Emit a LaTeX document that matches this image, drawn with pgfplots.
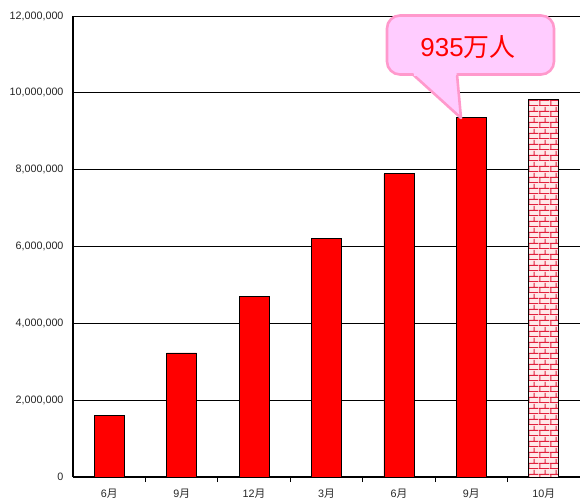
\documentclass[border=0pt]{standalone}
\usepackage{pgfplots}
\pgfplotsset{compat=1.18}
\usepackage{fontspec}
\setmainfont{Liberation Sans}
\newfontfamily\cjk{Noto Sans CJK JP}
\usetikzlibrary{patterns}
\definecolor{calloutfill}{HTML}{FFCCFF}
\definecolor{calloutdraw}{HTML}{FF99CC}
\definecolor{brickbg}{HTML}{FFE8E8}
\definecolor{brickline}{HTML}{E0203C}
\pgfdeclarepatternformonly{smallbricks}{\pgfpointorigin}{\pgfqpoint{11bp}{11bp}}{\pgfqpoint{11bp}{11bp}}{%
  \pgfsetlinewidth{1.1bp}%
  \pgfpathmoveto{\pgfqpoint{0bp}{0.5bp}}\pgfpathlineto{\pgfqpoint{11bp}{0.5bp}}%
  \pgfpathmoveto{\pgfqpoint{0bp}{6bp}}\pgfpathlineto{\pgfqpoint{11bp}{6bp}}%
  \pgfpathmoveto{\pgfqpoint{1bp}{0.5bp}}\pgfpathlineto{\pgfqpoint{1bp}{6bp}}%
  \pgfpathmoveto{\pgfqpoint{6.5bp}{6bp}}\pgfpathlineto{\pgfqpoint{6.5bp}{11bp}}%
  \pgfusepath{stroke}}
\begin{document}
\begin{tikzpicture}
\begin{axis}[
  name=ax,
  scale only axis, width=507bp, height=461bp,
  xmin=-0.5, xmax=6.5, ymin=0, ymax=12000000,
  axis x line*=bottom, axis y line*=left,
  axis line style={black, line width=1.1bp},
  ytick={0,2000000,4000000,6000000,8000000,10000000,12000000},
  scaled y ticks=false,
  yticklabel style={xshift=-6bp},
  yticklabel style={/pgf/number format/fixed, /pgf/number format/1000 sep={,}, /pgf/number format/assume math mode=true},
  ymajorgrids, grid style={black, line width=0.7bp},
  ytick style={draw=none},
  xtick={0,...,6},
  xticklabels={6{\cjk 月},9{\cjk 月},12{\cjk 月},3{\cjk 月},6{\cjk 月},9{\cjk 月},10{\cjk 月}},
  major x tick style={draw=none},
  minor xtick={0.5,1.5,2.5,3.5,4.5,5.5},
  minor tick length=5bp,
  xtick align=inside,
  minor x tick style={black, line width=0.8bp},
  tick label style={font=\fontsize{10.8}{12}\selectfont, black!85},
  xticklabel style={yshift=-4bp},
  ybar, bar width=30bp,
  clip=false,
]
\addplot[bar shift=0pt, fill=red, draw=black, line width=0.8bp] coordinates {
  (0,1610000) (1,3230000) (2,4710000) (3,6220000) (4,7890000) (5,9350000)
};
\addplot[bar shift=0pt, fill=brickbg, draw=black, line width=0.8bp,
  postaction={pattern=smallbricks, pattern color=brickline}] coordinates {
  (6,9820000)
};
% callout
\draw[calloutdraw, fill=calloutfill, line width=2.6bp, rounded corners=13bp]
  (rel axis cs:0.6193,0.8731) rectangle (rel axis cs:0.9487,1.0011);
\fill[calloutfill] (rel axis cs:0.6706,0.8753) -- (rel axis cs:0.7653,0.7787) -- (rel axis cs:0.7574,0.8753) -- cycle;
\draw[calloutdraw, line width=2.6bp, line join=round]
  (rel axis cs:0.6706,0.8731) -- (rel axis cs:0.7653,0.7787) -- (rel axis cs:0.7574,0.8731);
\fill[calloutfill] (rel axis cs:0.6730,0.8770) -- (rel axis cs:0.7550,0.8770) -- (rel axis cs:0.7550,0.8700) -- (rel axis cs:0.6730,0.8700) -- cycle;
\node[font=\fontsize{26}{28}\selectfont, text=red, inner sep=0pt]
  at (rel axis cs:0.779,0.9317) {935{\cjk 万人}};
\end{axis}
\pgfresetboundingbox
\path ([xshift=-73bp,yshift=-24bp]ax.south west) rectangle ([yshift=16bp]ax.north east);
\end{tikzpicture}
\end{document}
